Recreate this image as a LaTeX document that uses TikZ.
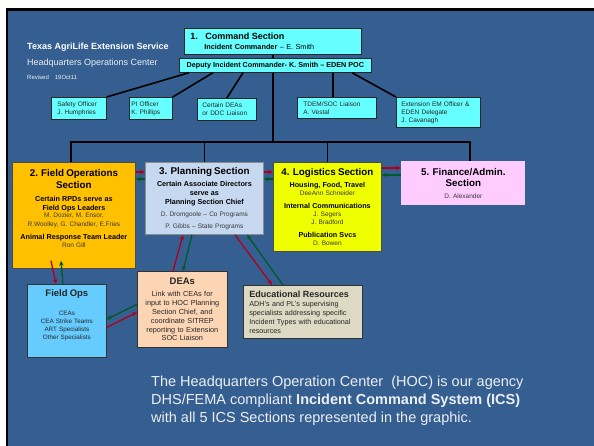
\documentclass[tikz,border=0pt]{standalone}
\usepackage{fontspec}
\setmainfont{Liberation Sans}
\usepackage{tikz}
\usetikzlibrary{arrows.meta}

\definecolor{hocblue}{HTML}{365F91}
\definecolor{staffcyan}{HTML}{66FFFF}
\definecolor{fieldorange}{HTML}{FFC000}
\definecolor{planblue}{HTML}{C6D9F1}
\definecolor{logyellow}{HTML}{F0FF00}
\definecolor{finpink}{HTML}{FFCCFF}
\definecolor{opsblue}{HTML}{66CCFF}
\definecolor{deapeach}{HTML}{FCD5B4}
\definecolor{restan}{HTML}{DDD9C3}
\definecolor{arrowred}{HTML}{B0001E}
\definecolor{arrowgreen}{HTML}{005A28}
\definecolor{namegray}{HTML}{383838}

\newcommand{\fsz}[2]{\fontsize{#1}{#2}\selectfont}
\newcommand{\sechd}{\fsz{9.8}{12}\bfseries}
\newcommand{\secsub}{\fsz{7.2}{9}\bfseries}
\newcommand{\secnm}{\fsz{6.5}{9}\color{namegray}}

\begin{document}
\begin{tikzpicture}[x=1pt,y=-1pt,>={Stealth[length=5pt,width=4.5pt]},
    boxsize/.style 2 args={minimum width=#1pt, minimum height=#2pt},
    cmdbox/.style={draw=black!85, line width=0.7pt, fill=staffcyan, anchor=north west, inner ysep=0pt},
    staff/.style={draw=black!85, line width=0.7pt, fill=staffcyan, anchor=north west, align=left,
      inner ysep=0pt, font=\fsz{6.5}{8}, text=black!85},
    section/.style={anchor=north west, align=center, inner sep=0pt, line width=0.8pt, text=black, font=\fsz{6.5}{9}},
    lowbox/.style={draw=black!80, line width=0.7pt, anchor=north west, inner ysep=0pt, text=black!85},
    tree/.style={line width=1.6pt},
    redarr/.style={->, draw=arrowred, line width=1.3pt},
    greenarr/.style={->, draw=arrowgreen, line width=1.3pt}]

  % slide background
  \useasboundingbox (0,0) rectangle (594,446);
  \fill[white] (0,0) rectangle (594,446);
  \fill[hocblue] (7,9) rectangle (594,446);
  \draw[line width=2.5pt] (7,446) -- (7,9.5) -- (594,9.5);

  % heading
  \node[anchor=west, inner sep=0pt, text=white, font=\fsz{9}{11}\bfseries] (agency) at (27,47) {Texas AgriLife Extension Service};
  \node[anchor=west, inner sep=0pt, text=white!90!hocblue, font=\fsz{9}{11}] (hocname) at (27,63) {Headquarters Operations Center};
  \node[anchor=west, inner sep=0pt, text=white!90!hocblue, font=\fsz{6}{7}] (revised) at (27,77) {Revised\hspace{6pt}19Oct11};

  % command section
  \node[cmdbox, boxsize={177}{26}, align=left, inner xsep=6pt, text width=165pt, font=\fsz{7.3}{9}] (cmd) at (184,28)
    {{\fsz{9}{10}\bfseries 1.\hspace{7.5pt}Command Section}\\[1pt]
     \hspace*{14pt}\textbf{Incident Commander} -- E. Smith};
  \coordinate (busL) at (71,142);
  \coordinate (busR) at (470,142);
  \draw[tree] (cmd.south) -- (cmd.south |- busL);
  \node[cmdbox, boxsize={192}{14}, font=\fsz{7.2}{9}\bfseries] (deputy) at (179,58) {Deputy Incident Commander- K. Smith -- EDEN POC};

  % command staff
  \node[staff, boxsize={55}{22}, inner xsep=6pt, text width=43pt] (safety) at (51,97) {Safety Officer\\J. Humphries};
  \node[staff, boxsize={43}{22}, inner xsep=2pt, text width=39pt] (pio) at (129,97) {PI Officer\\K. Phillips};
  \node[staff, boxsize={59}{22}, inner xsep=5pt, text width=49pt] (liaison) at (197,98) {Certain DEAs\\or DDC Liaison};
  \node[staff, boxsize={79}{21}, inner xsep=6pt, text width=67pt] (tdem) at (297,97) {TDEM/SOC Liaison\\A. Vestal};
  \node[staff, boxsize={84}{30}, inner xsep=5pt, text width=74pt] (emofficer) at (396,97) {Extension EM Officer \&\\EDEN Delegate\\J. Cavanagh};

  \draw[tree] (deputy.south west) ++(10,0) -- (safety.north east);
  \draw[tree] (deputy.south west) ++(34,0) -- (pio.north east);
  \draw[tree] (deputy.south west) ++(64,0) -- (liaison.north);
  \draw[tree] (deputy.south west) ++(154,0) coordinate (tdemtop) -- (tdemtop |- tdem.north);
  \draw[tree] (deputy.south west) ++(173,0) -- (emofficer.north west);

  % the five sections
  \node[section, fill=fieldorange, draw=black!70, boxsize={123}{106}, text width=120pt] (fieldsec) at (12,162)
    {{\sechd 2. Field Operations}\\[2pt]
     {\sechd Section}\\[4pt]
     {\secsub Certain RPDs serve as}\\
     {\secsub Field Ops Leaders}\\[-1.5pt]
     {\secnm M. Dozier, M. Ensor,}\\
     {\secnm R.Woolley, G. Chandler, E.Fries}\\[4pt]
     {\secsub Animal Response Team Leader}\\[-1pt]
     {\secnm Ron Gill}\\[5pt]\mbox{}};
  \node[section, fill=planblue, draw=black!45, boxsize={118}{72}, text width=115pt] (plansec) at (145,162)
    {{\sechd 3. Planning Section}\\[3pt]
     {\secsub Certain Associate Directors}\\
     {\secsub serve as}\\
     {\secsub Planning Section Chief}\\[3pt]
     {\secnm D. Dromgoole -- Co Programs}\\[3pt]
     {\secnm P. Gibbs -- State Programs}};
  \node[section, fill=logyellow, draw=black!70, boxsize={108}{89}, text width=105pt] (logsec) at (273,162)
    {{\sechd 4. Logistics Section}\\[3pt]
     {\secsub Housing, Food, Travel}\\[-1pt]
     {\secnm DeeAnn Schneider}\\[4pt]
     {\secsub Internal Communications}\\[-1pt]
     {\secnm J. Segers}\\[-1pt]
     {\secnm J. Bradford}\\[4pt]
     {\secsub Publication Svcs}\\[-1pt]
     {\secnm D. Bowen}};
  \node[section, fill=finpink, boxsize={124}{44}, text width=120pt] (finsec) at (401,161)
    {{\sechd 5. Finance/Admin.}\\[2pt]
     {\sechd Section}\\[3pt]
     {\secnm D. Alexander}};

  \draw[tree] (fieldsec.north -| busL) -- (busL) -- (busR) -- (busR |- finsec.north);
  \draw[tree] (plansec.north |- busL) -- (plansec.north);
  \draw[tree] (logsec.north |- busL) -- (logsec.north);

  \draw[redarr] ([yshift=-10pt]fieldsec.north east) -- ([yshift=-10pt]plansec.north west);
  \draw[greenarr] ([yshift=-17pt]plansec.north west) -- ([yshift=-17pt]fieldsec.north east);
  \draw[redarr] ([yshift=-10pt]plansec.north east) -- ([yshift=-10pt]logsec.north west);
  \draw[greenarr] ([yshift=-17pt]logsec.north west) -- ([yshift=-17pt]plansec.north east);
  \draw[redarr] ([yshift=-6pt]logsec.north east) -- ([yshift=-7pt]finsec.north west);
  \draw[greenarr] ([yshift=-14pt]finsec.north west) -- ([yshift=-13pt]logsec.north east);

  % field level
  \node[lowbox, fill=opsblue, boxsize={79}{73}, text width=77pt, inner xsep=1pt, align=center, font=\fsz{6.3}{8}] (fieldops) at (27,284)
    {{\fsz{9.5}{11}\bfseries Field Ops}\\[11pt]
     CEAs\\CEA Strike Teams\\ART Specialists\\Other Specialists\\[5pt]\mbox{}};
  \node[lowbox, fill=deapeach, boxsize={90}{76}, text width=88pt, inner xsep=1pt, align=center, font=\fsz{7.3}{8.8}] (deas) at (137,271)
    {{\fsz{9.5}{11}\bfseries DEAs}\\[4pt]
     Link with CEAs for\\input to HOC Planning\\Section Chief, and\\coordinate SITREP\\reporting to Extension\\SOC Liaison};
  \node[lowbox, fill=restan, boxsize={119}{53}, text width=107pt, inner xsep=6pt, align=left, font=\fsz{7.2}{9}] (edres) at (243,285)
    {{\fsz{9}{10}\bfseries Educational Resources}\\
     ADH's and PL's supervising\\specialists addressing specific\\Incident Types with educational\\resources};

  \draw[redarr] ([xshift=39pt,yshift=8pt]fieldsec.south west) -- ([xshift=29pt]fieldops.north west);
  \draw[greenarr] ([xshift=36pt]fieldops.north west) -- ([xshift=49pt,yshift=8pt]fieldsec.south west);
  \draw[redarr] ([xshift=36pt]deas.north west) -- ([xshift=38pt]plansec.south west);
  \draw[greenarr] ([xshift=47pt]plansec.south west) -- ([xshift=46pt]deas.north west);
  \draw[redarr] ([xshift=90pt]plansec.south west) -- ([xshift=29pt]edres.north west);
  \draw[greenarr] ([xshift=40pt]edres.north west) -- ([xshift=102pt]plansec.south west);
  \draw[greenarr] ([yshift=5pt]deas.west) -- ([yshift=1.5pt]fieldops.east);
  \draw[redarr] ([yshift=-6.5pt]fieldops.east) -- ([yshift=-3pt]deas.west);

  % caption
  \node[anchor=west, align=left, inner sep=0pt, text=white!90!hocblue, font=\fsz{14.5}{18}] (summary) at (151,401)
    {The Headquarters Operation Center\ \ (HOC) is our agency\\
     DHS/FEMA compliant \textbf{Incident Command System (ICS)}\\
     with all 5 ICS Sections represented in the graphic.};
\end{tikzpicture}
\end{document}
